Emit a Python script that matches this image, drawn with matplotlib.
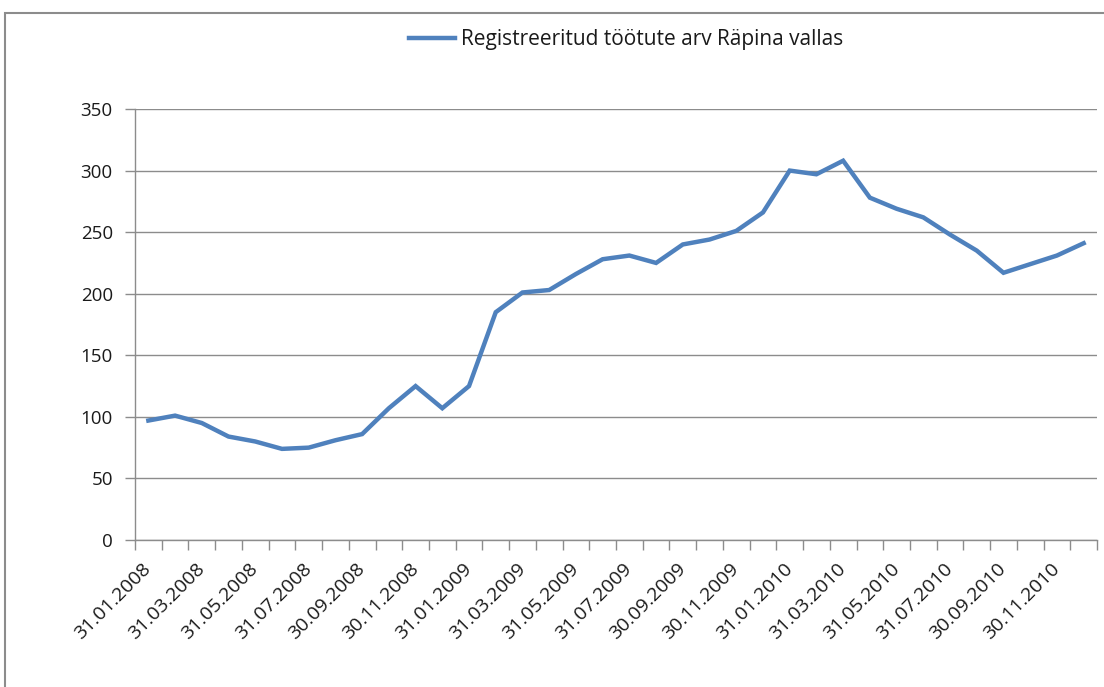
import numpy as np
import matplotlib.pyplot as plt
from matplotlib.patches import Rectangle

# month-end dates, Jan 2008 .. Dec 2010
dates = ['31.01.2008', '29.02.2008', '31.03.2008', '30.04.2008', '31.05.2008', '30.06.2008',
         '31.07.2008', '31.08.2008', '30.09.2008', '31.10.2008', '30.11.2008', '31.12.2008',
         '31.01.2009', '28.02.2009', '31.03.2009', '30.04.2009', '31.05.2009', '30.06.2009',
         '31.07.2009', '31.08.2009', '30.09.2009', '31.10.2009', '30.11.2009', '31.12.2009',
         '31.01.2010', '28.02.2010', '31.03.2010', '30.04.2010', '31.05.2010', '30.06.2010',
         '31.07.2010', '31.08.2010', '30.09.2010', '31.10.2010', '30.11.2010', '31.12.2010']
unemployed = [97, 101, 95, 84, 80, 74, 75, 81, 86, 107, 125, 107,
              125, 185, 201, 203, 216, 228, 231, 225, 240, 244, 251, 266,
              300, 297, 308, 278, 269, 262, 248, 235, 217, 224, 231, 241]
series_name = 'Registreeritud töötute arv Räpina vallas'

plt.rcParams['font.family'] = ['Open Sans', 'DejaVu Sans']

fig = plt.figure(figsize=(11.04, 6.87), dpi=100)
W, H = 1104, 687
# axes in pixel terms: left 135, right 1097, top 109, bottom 540
ax = fig.add_axes([135 / W, 1 - 540 / H, (1097 - 135) / W, (540 - 109) / H])

# outer chart frame (right and bottom edges cut off)
fig.patches.append(Rectangle((5 / W, -0.1), 1.2, 1 - 13 / H + 0.1, transform=fig.transFigure,
                             fill=False, edgecolor='#8c8c8c', lw=1.5))

x = np.arange(len(unemployed))
line, = ax.plot(x, unemployed, color='#4F81BD', lw=3.2, solid_joinstyle='miter')

ax.set_xlim(-0.5, len(x) - 0.5)
ax.set_ylim(0, 350)
ax.set_yticks(np.arange(0, 351, 50))
ax.yaxis.grid(True, color='#8c8c8c', lw=1)
ax.set_axisbelow(True)

for s in ['top', 'right']:
    ax.spines[s].set_visible(False)
for s in ['left', 'bottom']:
    ax.spines[s].set_color('#8c8c8c')
    ax.spines[s].set_linewidth(1)

ax.set_xticks(x[::2])
ax.set_xticklabels(dates[::2], rotation=45, ha='right', va='center', rotation_mode='anchor')
ax.set_xticks(np.arange(-0.5, len(x)), minor=True)
ax.tick_params(axis='x', which='major', length=0, pad=19, labelsize=14, labelcolor='#1a1a1a')
ax.tick_params(axis='x', which='minor', length=7, color='#8c8c8c', width=1)
ax.tick_params(axis='y', length=7, color='#8c8c8c', width=1, labelsize=13.5,
               labelcolor='#1a1a1a', pad=9)

fig.legend([line], [series_name], loc='center', bbox_to_anchor=(626 / W, 1 - 40 / H),
           frameon=False, fontsize=15, handlelength=2.2, handletextpad=0.3,
           labelcolor='#1a1a1a')

fig.savefig('out.png', dpi=100)
